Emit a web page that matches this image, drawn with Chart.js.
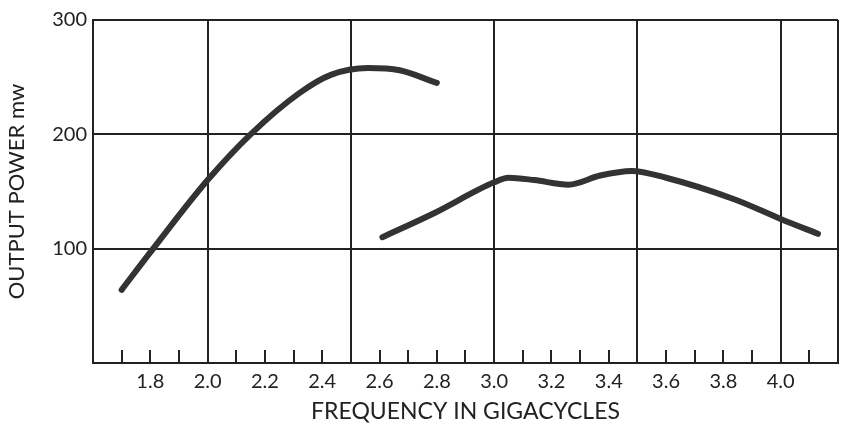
<!DOCTYPE html>
<html lang="en">
<head>
    <meta charset="UTF-8">
    <title>Output Power vs Frequency</title>
    <script src="https://cdn.jsdelivr.net/npm/chart.js"></script>
    <style>
        html, body { margin: 0; padding: 0; background: #fff; }
        #wrap { width: 845px; height: 429px; }
    </style>
</head>
<body>
<div id="wrap"><canvas id="powerChart" width="845" height="429"></canvas></div>

<script>
    // values
    const lowBandFreq = [1.70, 1.81, 2.00, 2.15, 2.32, 2.43, 2.56, 2.67, 2.80];
    const lowBandPower = [64, 100, 160, 200, 236, 252, 258, 256, 245];

    const highBandFreq = [2.61, 2.79, 3.00, 3.05, 3.14, 3.26, 3.37, 3.48, 3.60, 3.84, 4.00, 4.13];
    const highBandPower = [110, 131, 158, 162, 160, 156, 164, 168, 162, 143, 126, 113];

    const xMin = 1.6, xMax = 4.2;
    const yTicks = [100, 200, 300];
    const xMajor = [2.0, 2.5, 3.0, 3.5, 4.0];

    const FONT = 'Lato, "Open Sans", sans-serif';
    const INK = '#222';

    function toPoints(xs, ys) {
        return xs.map((x, i) => ({ x: x, y: ys[i] }));
    }

    // short tick marks pointing up into the plot, every 0.1
    const innerTicks = {
        id: 'innerTicks',
        afterDatasetsDraw(chart) {
            const { ctx, scales: { x }, chartArea } = chart;
            ctx.save();
            ctx.strokeStyle = INK;
            ctx.lineWidth = 2;
            x.ticks.forEach(t => {
                const px = Math.round(x.getPixelForValue(t.value));
                ctx.beginPath();
                ctx.moveTo(px, chartArea.bottom);
                ctx.lineTo(px, chartArea.bottom - 13);
                ctx.stroke();
            });
            ctx.restore();
        }
    };

    const lineStyle = {
        borderColor: '#333',
        borderWidth: 6,
        borderCapStyle: 'round',
        borderJoinStyle: 'round',
        pointRadius: 0,
        fill: false,
        cubicInterpolationMode: 'monotone'
    };

    new Chart(document.getElementById('powerChart'), {
        type: 'line',
        data: {
            datasets: [
                Object.assign({ label: 'low band', data: toPoints(lowBandFreq, lowBandPower) }, lineStyle),
                Object.assign({ label: 'high band', data: toPoints(highBandFreq, highBandPower) }, lineStyle)
            ]
        },
        options: {
            responsive: false,
            animation: false,
            layout: { padding: { top: 20, right: 3, left: 0, bottom: 0 } },
            plugins: { legend: { display: false }, tooltip: { enabled: false } },
            scales: {
                x: {
                    type: 'linear',
                    min: xMin,
                    max: xMax,
                    afterFit: s => { s.height = 66; },
                    ticks: {
                        stepSize: 0.1,
                        autoSkip: false,
                        maxRotation: 0,
                        padding: 7,
                        color: INK,
                        font: { family: FONT, size: 20 },
                        callback: v => {
                            const k = Math.round(v * 10);
                            return (k % 2 === 0 && k >= 18 && k <= 40) ? (k / 10).toFixed(1) : '';
                        }
                    },
                    grid: {
                        drawTicks: false,
                        lineWidth: 2,
                        color: c => {
                            const k = Math.round(c.tick.value * 10);
                            return (xMajor.some(m => Math.round(m * 10) === k) || k === 42) ? INK : 'rgba(0,0,0,0)';
                        }
                    },
                    border: { color: INK, width: 2 },
                    title: {
                        display: true,
                        text: 'FREQUENCY IN GIGACYCLES',
                        color: INK,
                        font: { family: FONT, size: 23 },
                        padding: { top: 7 }
                    }
                },
                y: {
                    min: 0,
                    max: 300,
                    afterFit: s => { s.width = 93; },
                    ticks: {
                        stepSize: 100,
                        padding: 6,
                        color: INK,
                        font: { family: FONT, size: 20 },
                        callback: v => yTicks.includes(v) ? String(v) : ''
                    },
                    grid: { drawTicks: false, lineWidth: 2, color: INK },
                    border: { color: INK, width: 2 },
                    title: {
                        display: true,
                        text: 'OUTPUT POWER mw',
                        color: INK,
                        font: { family: FONT, size: 22 },
                        padding: { top: 4, bottom: 0 }
                    }
                }
            }
        },
        plugins: [innerTicks]
    });
</script>
</body>
</html>
